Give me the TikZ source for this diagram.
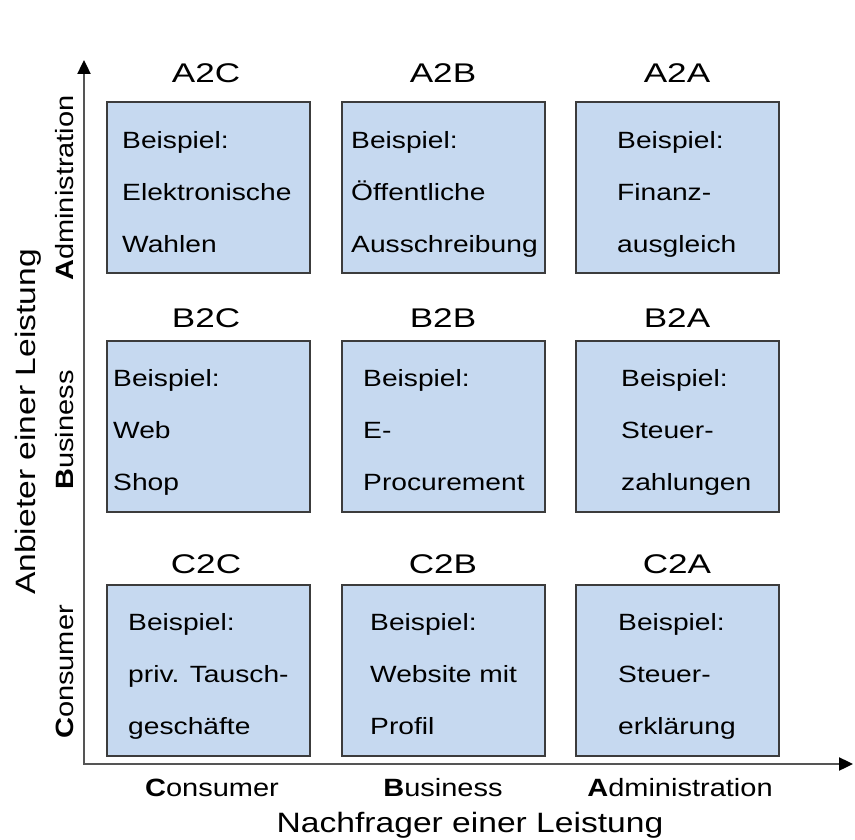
\documentclass[tikz,border=0pt]{standalone}
\usepackage{fontspec}
\setmainfont{Liberation Sans}
% slightly widened sans faces for the labels
\newfontfamily\cellfont[FakeStretch=1.2]{Liberation Sans}
\newfontfamily\titlefont[FakeStretch=1.3]{Liberation Sans}
\newfontfamily\catfont[FakeStretch=1.16]{Liberation Sans}
\usetikzlibrary{arrows.meta,calc}
\definecolor{cellfill}{RGB}{198,217,240}
\definecolor{cellline}{RGB}{60,60,60}
\definecolor{axisline}{RGB}{85,85,85}
\begin{document}
\begin{tikzpicture}[x=1pt,y=-1pt,
  cell/.style={draw=cellline, fill=cellfill, line width=1.6pt,
    minimum width=203pt, minimum height=171pt, inner sep=0pt, anchor=north west},
  celltitle/.style={font=\titlefont\fontsize{27}{32}\selectfont, anchor=base, inner sep=0pt},
  % three-line examples; the base anchor sits on the last line
  celltext/.style={font=\cellfont\fontsize{23.5}{52}\selectfont, align=left,
    anchor=base west, inner sep=0pt},
  catlabel/.style={font=\catfont\fontsize{25}{30}\selectfont, anchor=base, inner sep=0pt},
  axislabel/.style={font=\cellfont\fontsize{28}{33}\selectfont, anchor=base, inner sep=0pt},
  axis/.style={draw=axisline, line width=2.4pt,
    {Triangle[length=14pt,width=13pt,black]}-{Triangle[length=14pt,width=13pt,black]}}]
\useasboundingbox (0,0) rectangle (855,840);

% axes
\coordinate (origin) at (84,764);
\coordinate (ytip) at (84,60);
\coordinate (xtip) at (853,764);
\draw[axis] (ytip) -- (origin) -- (xtip);

% cells: rows A (top), B, C; columns C, B, A
\node[cell] (a2c) at (106,101) {};
\node[cell] (a2b) at (341,101) {};
\node[cell] (a2a) at (575,101) {};
\node[cell] (b2c) at (106,340) {};
\node[cell] (b2b) at (341,340) {};
\node[cell] (b2a) at (575,340) {};
\node[cell] (c2c) at (106,584) {};
\node[cell] (c2b) at (341,584) {};
\node[cell] (c2a) at (575,584) {};

% cell titles
\node[celltitle] (ta2c) at (206,83) {A2C};
\node[celltitle] (ta2b) at (443,83) {A2B};
\node[celltitle] (ta2a) at (677,83) {A2A};
\node[celltitle] (tb2c) at (206,327) {B2C};
\node[celltitle] (tb2b) at (443,327) {B2B};
\node[celltitle] (tb2a) at (677,327) {B2A};
\node[celltitle] (tc2c) at (206,573) {C2C};
\node[celltitle] (tc2b) at (443,573) {C2B};
\node[celltitle] (tc2a) at (677,573) {C2A};

% examples
\node[celltext] (xa2c) at ($(a2c.north west)+(16,151)$) {Beispiel:\\Elektronische\\Wahlen};
\node[celltext] (xa2b) at ($(a2b.north west)+(10,151)$) {Beispiel:\\Öffentliche\\Ausschreibung};
\node[celltext] (xa2a) at ($(a2a.north west)+(42,151)$) {Beispiel:\\Finanz-\\ausgleich};
\node[celltext] (xb2c) at ($(b2c.north west)+(7,150)$) {Beispiel:\\Web\\Shop};
\node[celltext] (xb2b) at ($(b2b.north west)+(22,150)$) {Beispiel:\\E-\\Procurement};
\node[celltext] (xb2a) at ($(b2a.north west)+(46,150)$) {Beispiel:\\Steuer-\\zahlungen};
\node[celltext] (xc2c) at ($(c2c.north west)+(22,150)$) {Beispiel:\\priv. Tausch-\\geschäfte};
\node[celltext] (xc2b) at ($(c2b.north west)+(29,150)$) {Beispiel:\\Website mit\\Profil};
\node[celltext] (xc2a) at ($(c2a.north west)+(43,150)$) {Beispiel:\\Steuer-\\erklärung};

% categories along the axes
\node[catlabel] (hc) at (212,796) {{\bfseries C}onsumer};
\node[catlabel] (hb) at (443,796) {{\bfseries B}usiness};
\node[catlabel] (ha) at (680,796) {{\bfseries A}dministration};
\node[catlabel, rotate=90] (va) at (73,188) {{\bfseries A}dministration};
\node[catlabel, rotate=90] (vb) at (73,430) {{\bfseries B}usiness};
\node[catlabel, rotate=90] (vc) at (73,672) {{\bfseries C}onsumer};

% axis titles
\node[axislabel] (xtitle) at (470,832) {Nachfrager einer Leistung};
\node[axislabel, rotate=90] (ytitle) at (35,422) {Anbieter einer Leistung};
\end{tikzpicture}
\end{document}
